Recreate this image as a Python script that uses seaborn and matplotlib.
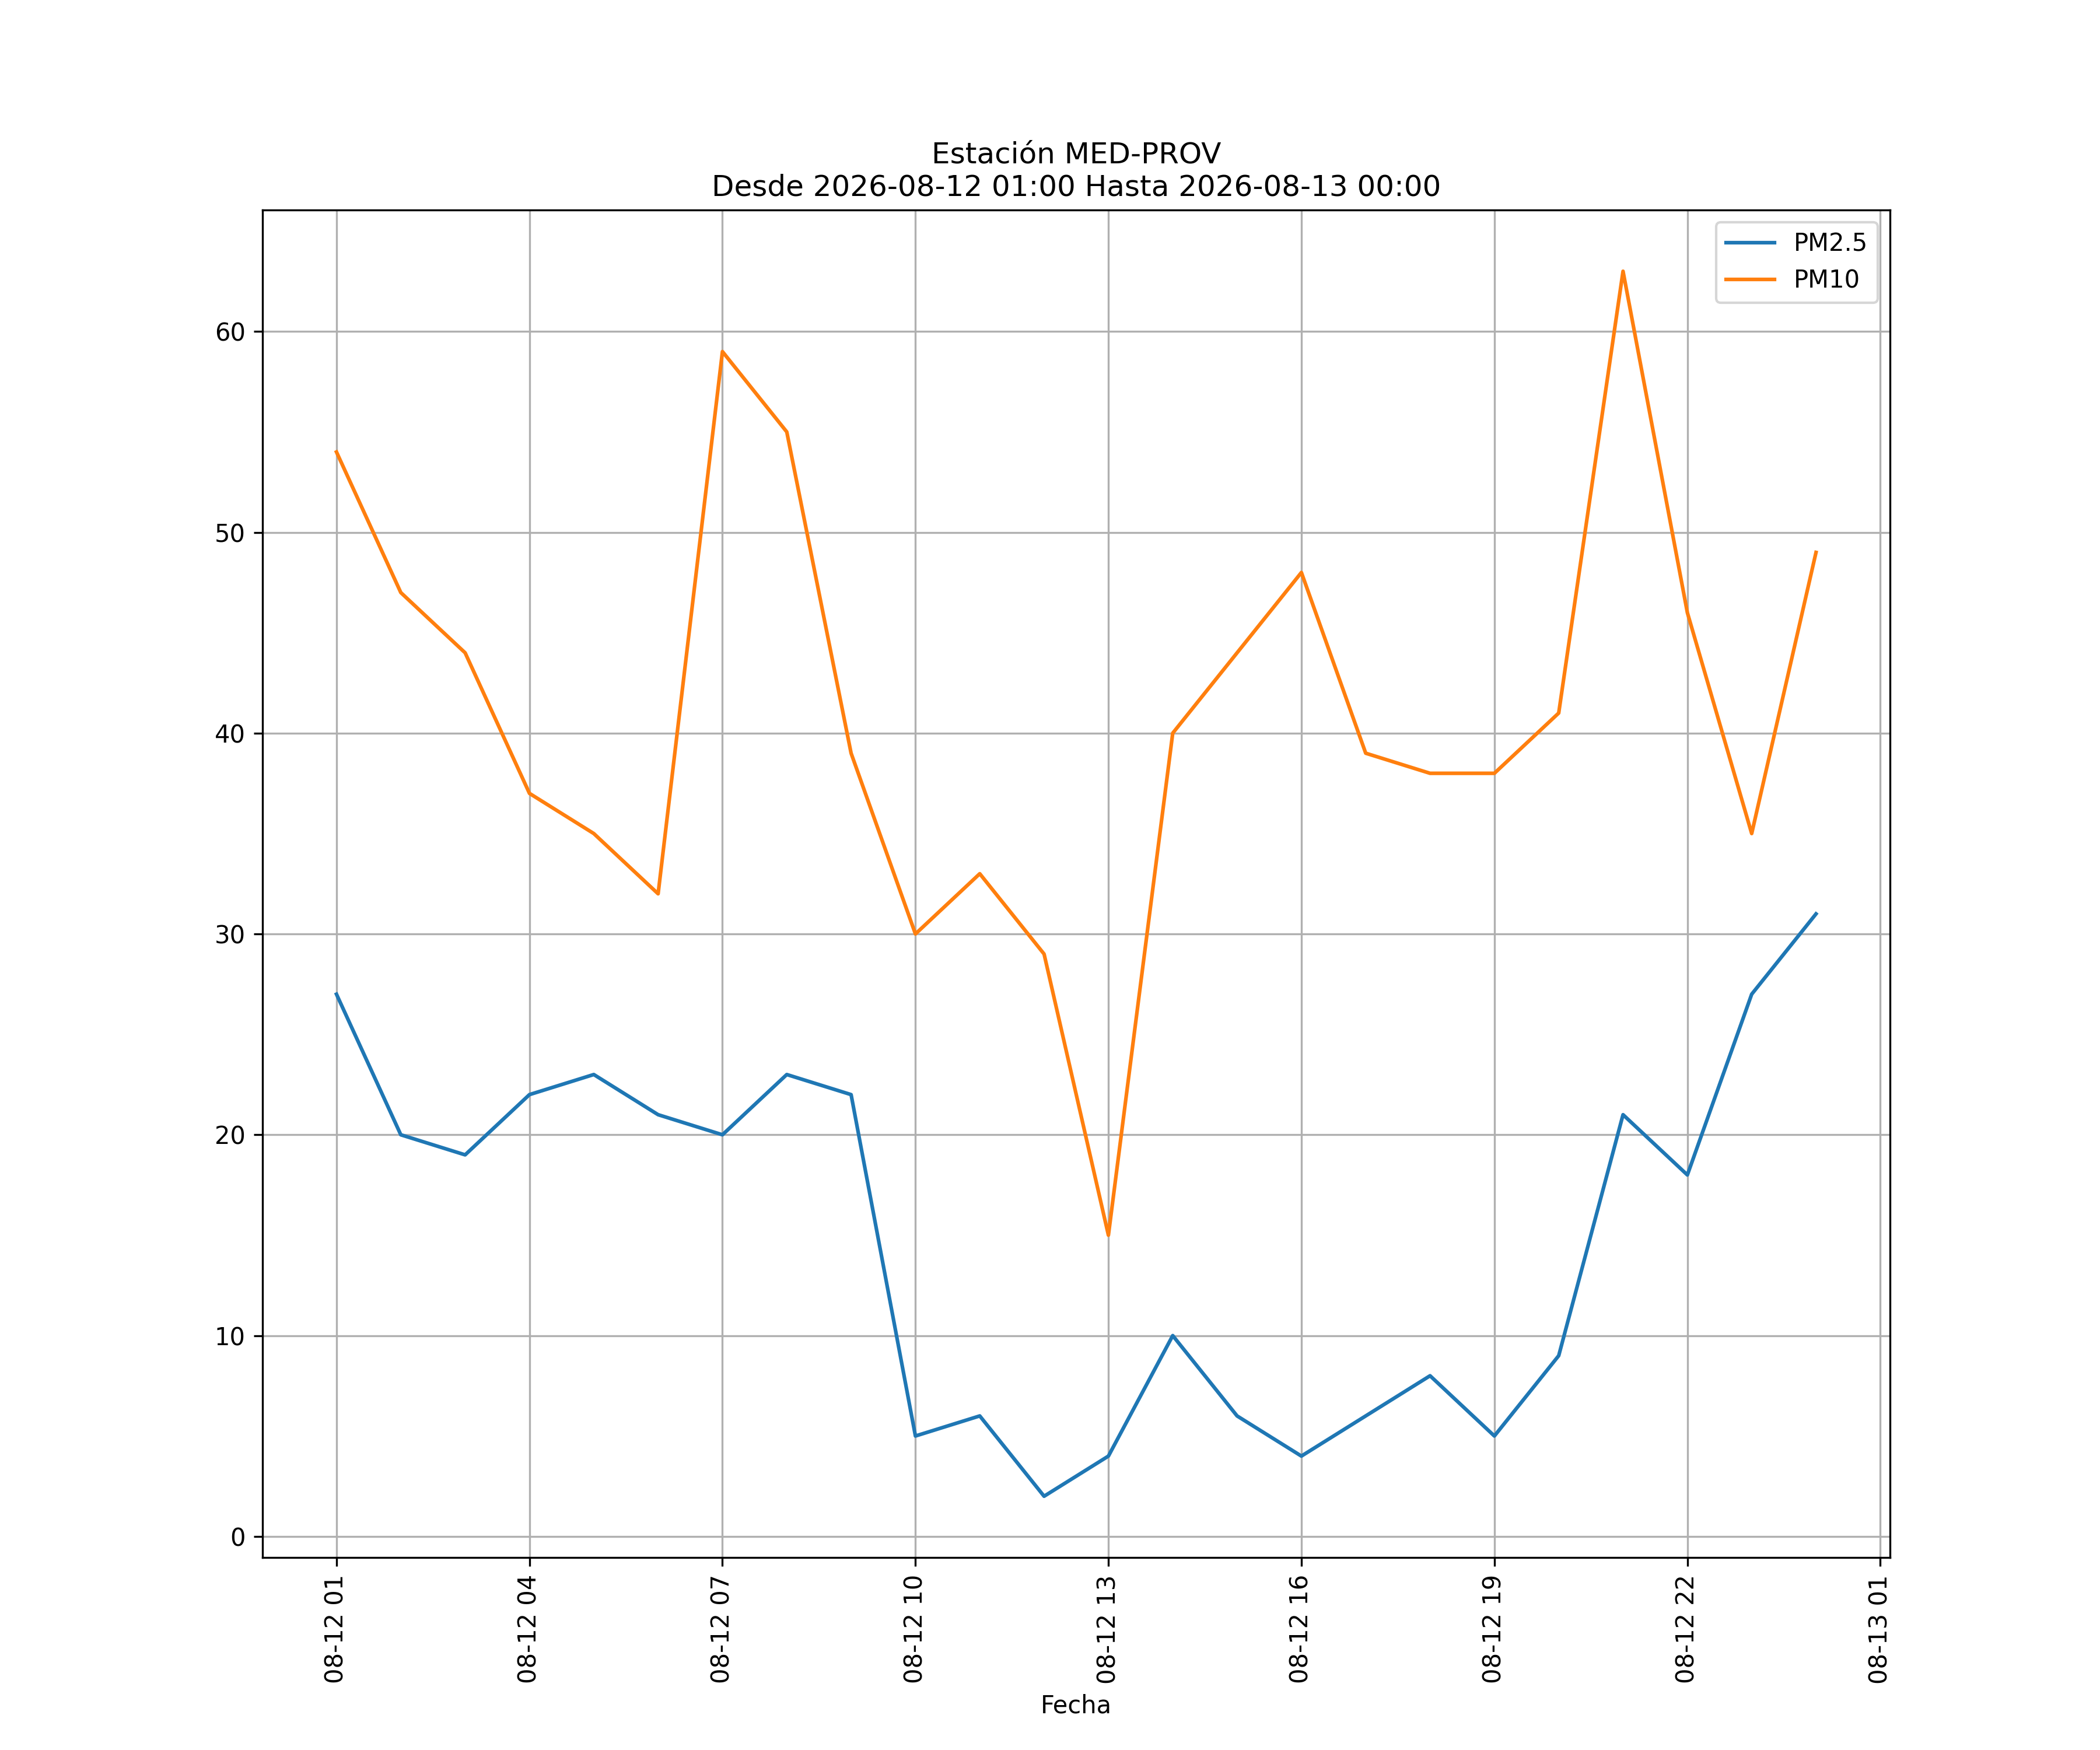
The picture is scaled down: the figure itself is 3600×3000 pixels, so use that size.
import matplotlib
matplotlib.use('Agg')
import matplotlib.pyplot as plt
import matplotlib.dates as mdates
import seaborn as sns
import pandas as pd

# datos horarios de la estación
fechas = pd.date_range('2026-08-12 01:00', '2026-08-13 00:00', freq='h')
pm25 = [27, 20, 19, 22, 23, 21, 20, 23, 22, 5, 6, 2, 4, 10, 6, 4, 6, 8, 5, 9, 21, 18, 27, 31]
pm10 = [54, 47, 44, 37, 35, 32, 59, 55, 39, 30, 33, 29, 15, 40, 44, 48, 39, 38, 38, 41, 63, 46, 35, 49]

df = pd.DataFrame({'Fecha': fechas, 'PM2.5': pm25, 'PM10': pm10})

fig, ax = plt.subplots(figsize=(12, 10), dpi=300)
sns.lineplot(x='Fecha', y='PM2.5', data=df, label='PM2.5', color='#1f77b4', ax=ax)
sns.lineplot(x='Fecha', y='PM10', data=df, label='PM10', color='#ff7f0e', ax=ax)

ax.set_title('Estación MED-PROV\nDesde 2026-08-12 01:00 Hasta 2026-08-13 00:00')
ax.set_xlabel('Fecha')
ax.set_ylabel('')
ax.xaxis.set_major_locator(mdates.HourLocator(byhour=[1, 4, 7, 10, 13, 16, 19, 22]))
ax.xaxis.set_major_formatter(mdates.DateFormatter('%m-%d %H'))
plt.setp(ax.get_xticklabels(), rotation=90)
ax.grid(True)
ax.legend(loc='upper right')

fig.savefig('out.png', dpi=300)
